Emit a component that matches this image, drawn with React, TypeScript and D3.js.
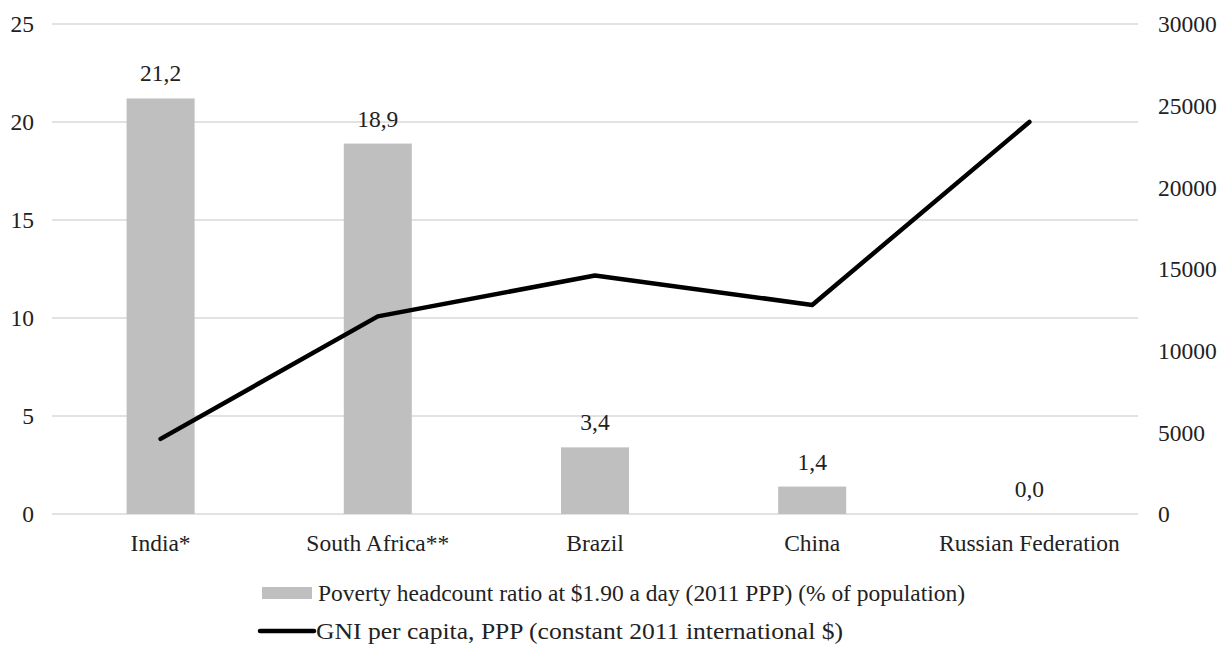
import React from "react";
import * as d3 from "d3";

const categories = ["India*", "South Africa**", "Brazil", "China", "Russian Federation"];
const povertyValues = [21.2, 18.9, 3.4, 1.4, 0.0];
const gniValues = [4600, 12100, 14600, 12800, 24000];
const leftTicks = [0, 5, 10, 15, 20, 25];
const rightTicks = [0, 5000, 10000, 15000, 20000, 25000, 30000];
const legendLabels = [
  "Poverty headcount ratio at $1.90 a day (2011 PPP) (% of population)",
  "GNI per capita, PPP (constant 2011 international $)",
];

const W = 1229;
const H = 649;
const FONT = "Liberation Serif";

export default function App() {
  const x = d3.scaleBand<string>().domain(categories).range([52, 1138]);
  const yL = d3.scaleLinear().domain([0, 25]).range([514, 24]);
  const yR = d3.scaleLinear().domain([0, 30000]).range([514, 24]);
  const barW = 68;
  const line = d3
    .line<number>()
    .x((_, i) => (x(categories[i]) as number) + x.bandwidth() / 2)
    .y((d) => yR(d));

  return (
    <svg width={W} height={H} style={{ position: "absolute", left: 0, top: 0, background: "#fff", fontFamily: FONT }}>
      {leftTicks.map((t) => (
        <g key={"l" + t}>
          <line x1={52} x2={1138} y1={yL(t)} y2={yL(t)} stroke="#d9d9d9" strokeWidth={1.5} />
          <text x={34} y={yL(t)} dy="0.35em" textAnchor="end" fontSize={23.5} fill="#222">
            {t}
          </text>
        </g>
      ))}
      {rightTicks.map((t) => (
        <text key={"r" + t} x={1158} y={yR(t)} dy="0.35em" textAnchor="start" fontSize={23.5} fill="#222">
          {t}
        </text>
      ))}
      {categories.map((c, i) => {
        const cx = (x(c) as number) + x.bandwidth() / 2;
        return (
          <g key={c}>
            {povertyValues[i] > 0 && (
              <rect x={cx - barW / 2} y={yL(povertyValues[i])} width={barW} height={yL(0) - yL(povertyValues[i])} fill="#bfbfbf" />
            )}
            <text x={cx} y={yL(povertyValues[i]) - 17} textAnchor="middle" fontSize={23.5} fill="#222">
              {povertyValues[i].toFixed(1).replace(".", ",")}
            </text>
            <text x={cx} y={551} textAnchor="middle" fontSize={23.5} fill="#222">
              {c}
            </text>
          </g>
        );
      })}
      <path d={line(gniValues) || ""} fill="none" stroke="#000" strokeWidth={4.5} strokeLinejoin="round" strokeLinecap="round" />
      <rect x={262} y={587} width={50} height={12} fill="#bfbfbf" />
      <text x={318} y={601} fontSize={23.5} fill="#222" textLength={647} lengthAdjust="spacingAndGlyphs">
        {legendLabels[0]}
      </text>
      <line x1={260} x2={314} y1={631} y2={631} stroke="#000" strokeWidth={4.5} strokeLinecap="round" />
      <text x={316} y={639} fontSize={23.5} fill="#222" textLength={527} lengthAdjust="spacingAndGlyphs">
        {legendLabels[1]}
      </text>
    </svg>
  );
}
